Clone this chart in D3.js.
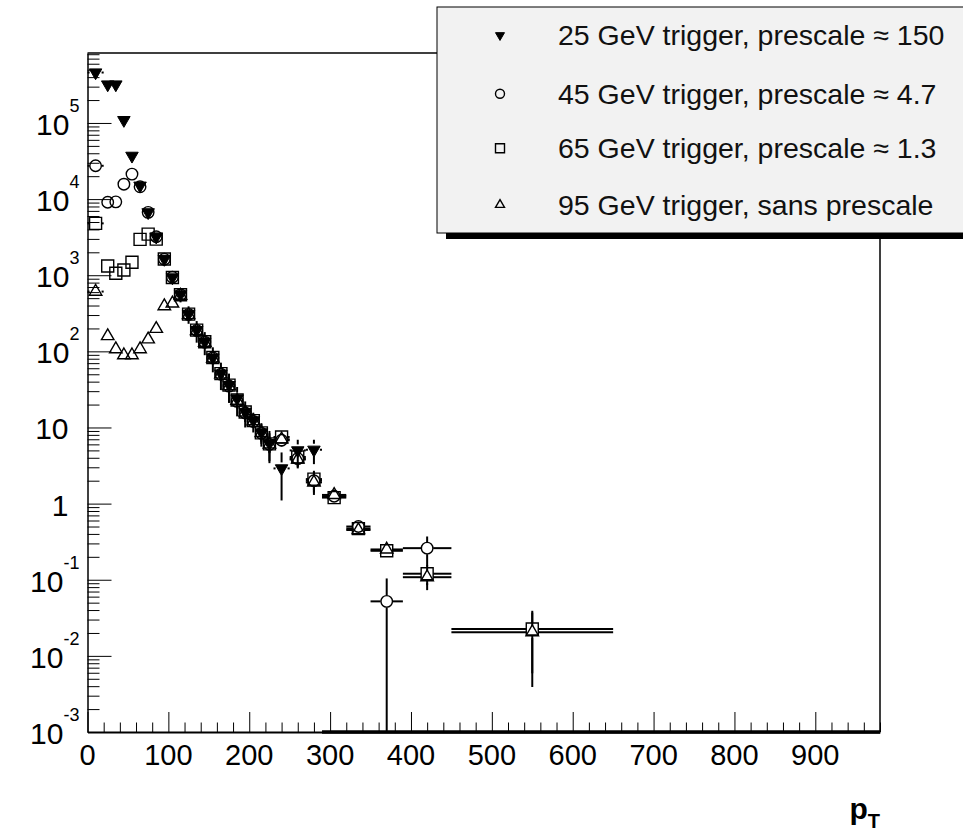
<!DOCTYPE html>
<html>
<head>
<meta charset="utf-8">
<script src="https://cdn.jsdelivr.net/npm/d3@7"></script>
<style>
  body { margin: 0; background: #fff; }
  svg { display: block; font-family: "Liberation Sans", Arial, Helvetica, sans-serif; }
  .axis path, .axis line { stroke: #000; }
  .err { stroke: #000; stroke-width: 2; fill: none; }
</style>
</head>
<body>
<svg id="chart"></svg>
<script>
// pT bin centres and edges
var pt    = [10, 25, 35, 45, 55, 65, 75, 85, 95, 105, 115, 125, 135, 145, 155, 165, 175, 185, 195, 205, 215, 225, 240, 260, 280, 305, 335, 370, 420, 550];
var binLo = [0, 20, 30, 40, 50, 60, 70, 80, 90, 100, 110, 120, 130, 140, 150, 160, 170, 180, 190, 200, 210, 220, 230, 250, 270, 290, 320, 350, 390, 450];
var binHi = [20, 30, 40, 50, 60, 70, 80, 90, 100, 110, 120, 130, 140, 150, 160, 170, 180, 190, 200, 210, 220, 230, 250, 270, 290, 320, 350, 390, 450, 650];

// 25 GeV trigger
var trig25    = [4.6e5, 3.2e5, 3.2e5, 1.09e5, 3.7e4, 1.5e4, 6.7e3, 3.2e3, 1.63e3, 935, 560, 310, 190, 134, 83, 51, 36, 24, 16, 12.4, 8.6, 6.2, 2.9, 5.0, 5.1, null, null, null, null, null];
var trig25Err = [9e3, 7e3, 7e3, 4e3, 2e3, 1.2e3, 700, 400, 250, 170, 120, 80, 60, 45, 30, 20, 15, 10, 6, 2.0, 2.5, 2.8, 1.8, 1.9, 1.8, null, null, null, null, null];
// 45 GeV trigger
var trig45    = [2.74e4, 9.1e3, 9.2e3, 1.57e4, 2.13e4, 1.45e4, 6.7e3, 3.2e3, 1.62e3, 940, 555, 305, 188, 132, 82, 50, 35, 22, 15.5, 12, 8.4, 6.0, 6.8, 3.9, 2.0, 1.25, 0.5, 0.052, 0.26, null];
var trig45Err = [600, 300, 300, 400, 500, 350, 200, 120, 80, 50, 35, 25, 18, 14, 10, 7, 5, 3.5, 2.5, 2, 1.6, 1.3, 1.2, 0.9, 0.6, 0.13, 0.08, 0.052, 0.11, null];
// 65 GeV trigger
var trig65    = [4.8e3, 1.32e3, 1.06e3, 1.17e3, 1.48e3, 2.96e3, 3.47e3, 2.98e3, 1.63e3, 935, 555, 308, 190, 134, 83, 51, 36, 23, 16, 12.3, 8.5, 6.1, 7.5, 4.1, 2.1, 1.2, 0.47, 0.24, 0.12, 0.0225];
var trig65Err = [70, 35, 30, 30, 35, 50, 55, 50, 35, 28, 20, 15, 12, 10, 8, 6, 5, 4, 3, 2.5, 2, 1.5, 1.3, 0.9, 0.6, 0.1, 0.06, 0.03, 0.035, 0.0166];
// 95 GeV trigger
var trig95    = [610, 159, 107, 89, 89, 107, 144, 198, 393, 426, 540, 300, 186, 130, 81, 50, 35, 22.5, 15.8, 12.1, 8.5, 6.0, 7.0, 3.8, 1.9, 1.3, 0.45, 0.25, 0.108, 0.0205];
var trig95Err = [25, 12, 10, 9, 9, 10, 12, 14, 20, 21, 23, 17, 14, 11, 9, 7, 6, 4.7, 4, 3.5, 2.9, 2.4, 1.3, 0.9, 0.6, 0.1, 0.06, 0.03, 0.035, 0.0166];

// bins with zero content drawn along the lower edge
var zeroLo = [290];
var zeroHi = [980];

// tick labels
var xTickValues = [0, 100, 200, 300, 400, 500, 600, 700, 800, 900];
var yTickValues = [1e-3, 1e-2, 1e-1, 1, 10, 1e2, 1e3, 1e4, 1e5];
var yTickBase   = ["10", "10", "10", "1", "10", "10", "10", "10", "10"];
var yTickExp    = ["-3", "-2", "-1", "", "", "2", "3", "4", "5"];

var legendLabels = [
  "25 GeV trigger, prescale \u2248 150",
  "45 GeV trigger, prescale \u2248 4.7",
  "65 GeV trigger, prescale \u2248 1.3",
  "95 GeV trigger, sans prescale"
];

// SVG size params
var W = 963, H = 833;
var margin = {top: 53, right: 83, bottom: 101, left: 87.5};
var width = W - margin.left - margin.right;
var height = H - margin.top - margin.bottom;

var root = d3.select("#chart")
    .attr("width", W)
    .attr("height", H);

root.append("rect")
    .attr("width", W)
    .attr("height", H)
    .attr("fill", "#fff");

var svg = root.append("g")
    .attr("transform", "translate(" + margin.left + "," + margin.top + ")");

// Scales
var x = d3.scaleLinear()
          .domain([0, 980])
          .range([0, width]);

var y = d3.scaleLog()
          .domain([1e-3, 8.3e5])
          .range([height, 0]);

function yc(v) { return y(Math.max(v, 1e-3)); }

// Frame (top and right)
svg.append("path")
    .attr("d", "M0,0H" + width + "V" + height)
    .attr("fill", "none")
    .attr("stroke", "#000")
    .attr("stroke-width", 1.5);

// Minor ticks
var xMinor = d3.range(0, 981, 20).filter(d => d % 100 != 0);
var yMinor = [];
d3.range(-3, 6).forEach(function(e) {
  for (var k = 2; k < 10; k++) {
    var v = k * Math.pow(10, e);
    if (v <= y.domain()[1]) yMinor.push(v);
  }
});

svg.append("g")
    .attr("class", "axis")
    .attr("transform", "translate(0," + height + ")")
    .call(d3.axisBottom(x).tickValues(xMinor).tickSize(-9.5).tickSizeOuter(0).tickFormat(""))
    .call(g => g.select(".domain").remove());

svg.append("g")
    .attr("class", "axis")
    .call(d3.axisLeft(y).tickValues(yMinor).tickSize(-12).tickSizeOuter(0).tickFormat(""))
    .call(g => g.select(".domain").remove());

// Major ticks + axis lines
var xAxis = svg.append("g")
    .attr("class", "axis")
    .attr("transform", "translate(0," + height + ")")
    .call(d3.axisBottom(x).tickValues(xTickValues).tickSize(-20).tickSizeOuter(0).tickFormat(""));
xAxis.select(".domain").attr("stroke-width", 2);

var yAxis = svg.append("g")
    .attr("class", "axis")
    .call(d3.axisLeft(y).tickValues(yTickValues).tickSize(-24).tickSizeOuter(0).tickFormat(""));
yAxis.select(".domain").attr("stroke-width", 1.5);

// x tick labels
svg.selectAll(".xlab")
  .data(xTickValues)
  .enter().append("text")
    .attr("class", "xlab")
    .attr("x", d => x(d))
    .attr("y", height + 33)
    .attr("text-anchor", "middle")
    .attr("font-size", 29)
    .text(d => d);

// y tick labels with exponents
var ylab = svg.selectAll(".ylab")
  .data(yTickValues)
  .enter().append("text")
    .attr("class", "ylab")
    .attr("x", (d, i) => yTickExp[i] ? -8 : -19)
    .attr("y", d => y(d) + 12)
    .attr("text-anchor", "end")
    .attr("font-size", 30);

ylab.append("tspan").text((d, i) => yTickBase[i]);
ylab.append("tspan")
    .attr("dy", -23)
    .attr("font-size", 18)
    .text((d, i) => yTickExp[i]);

// x axis title
var xt = root.append("text")
    .attr("x", margin.left + width)
    .attr("y", 819)
    .attr("text-anchor", "end")
    .attr("font-weight", "bold")
    .attr("font-size", 30);
xt.append("tspan").text("p");
xt.append("tspan").attr("dy", 9).attr("font-size", 20).text("T");

// zero-content bins along the bottom
svg.selectAll(".zero")
  .data(zeroLo)
  .enter().append("line")
    .attr("x1", d => x(d))
    .attr("x2", (d, i) => x(zeroHi[i]))
    .attr("y1", height)
    .attr("y2", height)
    .attr("stroke", "#000")
    .attr("stroke-width", 3.5);

// Series definitions
var series = [
  {vals: trig25, errs: trig25Err, type: "tridown"},
  {vals: trig45, errs: trig45Err, type: "circle"},
  {vals: trig65, errs: trig65Err, type: "square"},
  {vals: trig95, errs: trig95Err, type: "triup"}
];

function markerPath(type, s) {
  if (type == "circle") return d3.symbol(d3.symbolCircle, Math.PI * s * s / 4)();
  if (type == "square") return d3.symbol(d3.symbolSquare, s * s)();
  return d3.symbol(d3.symbolTriangle, Math.sqrt(3) / 4 * s * s)();
}

function drawMarker(g, type, s) {
  g.append("path")
    .attr("d", markerPath(type, s))
    .attr("transform", type == "tridown" ? "rotate(180)" : null)
    .attr("fill", type == "tridown" ? "#000" : "none")
    .attr("stroke", "#000")
    .attr("stroke-width", type == "tridown" ? 1 : 1.4);
}

var gap = 6;

series.forEach(function(s) {
  var pts = pt.map(function(p, i) {
    return {x: p, lo: binLo[i], hi: binHi[i], v: s.vals[i], e: s.errs[i]};
  }).filter(d => d.v != null);

  var g = svg.append("g");

  // error bars, with a gap round the marker
  pts.forEach(function(d) {
    var cx = x(d.x), cy = y(d.v);
    var xl = x(d.lo), xh = x(d.hi);
    var yt = yc(d.v + d.e), yb = yc(d.v - d.e);
    if (cx - xl > gap) g.append("line").attr("class", "err").attr("x1", xl).attr("x2", cx - gap).attr("y1", cy).attr("y2", cy);
    if (xh - cx > gap) g.append("line").attr("class", "err").attr("x1", cx + gap).attr("x2", xh).attr("y1", cy).attr("y2", cy);
    if (cy - yt > gap) g.append("line").attr("class", "err").attr("x1", cx).attr("x2", cx).attr("y1", yt).attr("y2", cy - gap);
    if (yb - cy > gap) g.append("line").attr("class", "err").attr("x1", cx).attr("x2", cx).attr("y1", cy + gap).attr("y2", yb);
  });

  g.selectAll(".mk")
    .data(pts)
    .enter().append("g")
      .attr("transform", d => "translate(" + x(d.x) + "," + y(d.v) + ")")
      .each(function() { drawMarker(d3.select(this), s.type, s.type == "square" ? 12 : s.type == "circle" ? 11.5 : 12.5); });
});

// Legend
var leg = root.append("g");
var lx = 437, ly = 7, lw = 600, lh = 226;

leg.append("rect")
    .attr("x", lx + 9).attr("y", ly + 6)
    .attr("width", lw).attr("height", lh)
    .attr("fill", "#000");

leg.append("rect")
    .attr("x", lx).attr("y", ly)
    .attr("width", lw).attr("height", lh)
    .attr("fill", "#f2f2f2")
    .attr("stroke", "#000")
    .attr("stroke-width", 1);

var rowH = lh / legendLabels.length;

legendLabels.forEach(function(lab, i) {
  var cy = ly + rowH * (i + 0.5) + (i == 1 ? 2 : 0);
  var m = leg.append("g").attr("transform", "translate(" + (lx + 63) + "," + cy + ")");
  drawMarker(m, series[i].type, 9);
  leg.append("text")
      .attr("x", lx + 121)
      .attr("y", cy + 10)
      .attr("font-size", 28.5)
      .attr("fill", "#111")
      .text(lab);
});
</script>
</body>
</html>
